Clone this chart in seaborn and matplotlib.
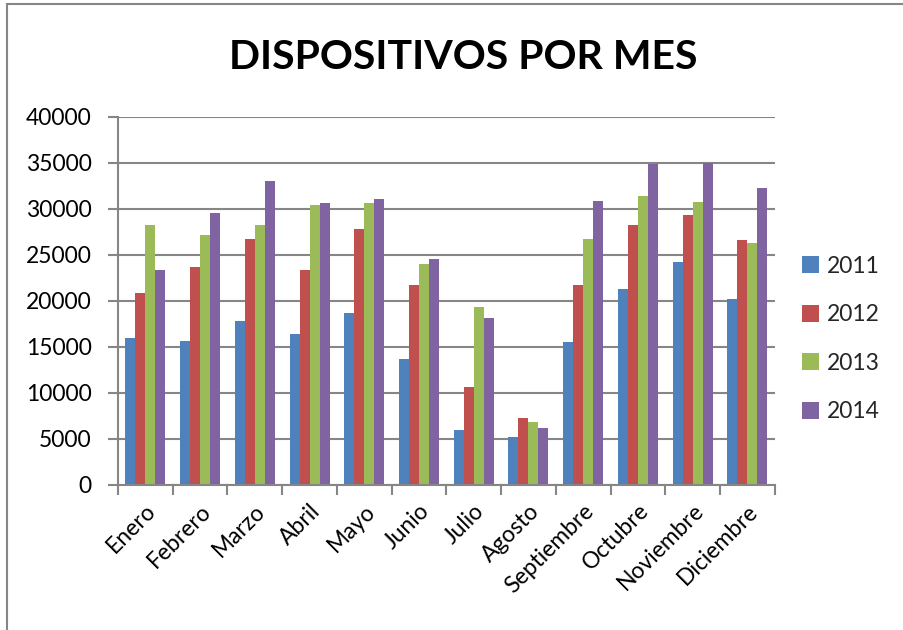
import matplotlib
matplotlib.use("Agg")
from matplotlib import pyplot as plt
from matplotlib.patches import Rectangle
from matplotlib.ticker import FixedLocator
import pandas as pd
import seaborn as sns

meses = ["Enero", "Febrero", "Marzo", "Abril", "Mayo", "Junio", "Julio",
         "Agosto", "Septiembre", "Octubre", "Noviembre", "Diciembre"]
anios = ["2011", "2012", "2013", "2014"]
v2011 = [16000, 15700, 17800, 16400, 18700, 13700, 6000, 5250, 15500, 21300, 24200, 20250]
v2012 = [20900, 23700, 26750, 23400, 27800, 21700, 10700, 7250, 21700, 28300, 29300, 26600]
v2013 = [28300, 27200, 28300, 30400, 30600, 24000, 19300, 6800, 26700, 31400, 30800, 26300]
v2014 = [23400, 29600, 33000, 30600, 31100, 24600, 18150, 6200, 30900, 34900, 35000, 32300]
colores = ["#4F81BD", "#C0504D", "#9BBB59", "#8064A2"]

rows = []
for anio, vals in zip(anios, [v2011, v2012, v2013, v2014]):
    for mes, v in zip(meses, vals):
        rows.append({"mes": mes, "valor": v, "anio": anio})
df = pd.DataFrame(rows)

sns.set_theme(style="white")
plt.rcParams["font.family"] = ["Lato", "DejaVu Sans"]

fig = plt.figure(figsize=(9.04, 6.3), dpi=100)
ax = fig.add_axes([0.1305, 0.2302, 0.857 - 0.1305, 0.8143 - 0.2302])

sns.barplot(data=df, x="mes", y="valor", hue="anio", palette=colores,
            saturation=1, width=0.73, gap=0, linewidth=0, ax=ax, legend=True)

gris = "#868686"
ax.set_ylim(0, 40000)
ax.set_xlim(-0.5, 11.5)
ax.set_yticks(range(0, 40001, 5000))
ax.yaxis.grid(True, color=gris, linewidth=1.5)
ax.set_axisbelow(True)
for s in ["top", "right"]:
    ax.spines[s].set_visible(False)
for s in ["left", "bottom"]:
    ax.spines[s].set_color(gris)
    ax.spines[s].set_linewidth(1.5)

ax.tick_params(axis="y", which="major", left=True, length=7, width=1.5,
               color=gris, labelsize=16.5, pad=12, labelcolor="black")
ax.xaxis.set_minor_locator(FixedLocator([i - 0.5 for i in range(13)]))
ax.tick_params(axis="x", which="major", bottom=False, labelsize=16.5, pad=5,
               labelcolor="black")
ax.tick_params(axis="x", which="minor", bottom=True, length=7, width=1.5,
               color=gris)
for lab in ax.get_xticklabels():
    lab.set_rotation(45)
    lab.set_ha("right")
    lab.set_rotation_mode("anchor")
ax.set_xlabel("")
ax.set_ylabel("")

handles, labels = ax.get_legend_handles_labels()
ax.legend_.remove()
fig.legend(handles, labels, loc="center left", bbox_to_anchor=(0.864, 0.462),
           frameon=False, fontsize=16.5, handlelength=0.75, handleheight=0.75,
           handletextpad=0.35, labelspacing=1.2)

fig.text(0.512, 0.9095, "DISPOSITIVOS POR MES", ha="center", va="center",
         fontsize=29.5, fontweight="bold", color="black")

fig.patches.append(Rectangle((7 / 904, -0.1), 1.2, 1.1 - 4.5 / 630,
                             transform=fig.transFigure, fill=False,
                             edgecolor=gris, linewidth=1.5))

fig.savefig("out.png", dpi=100)
